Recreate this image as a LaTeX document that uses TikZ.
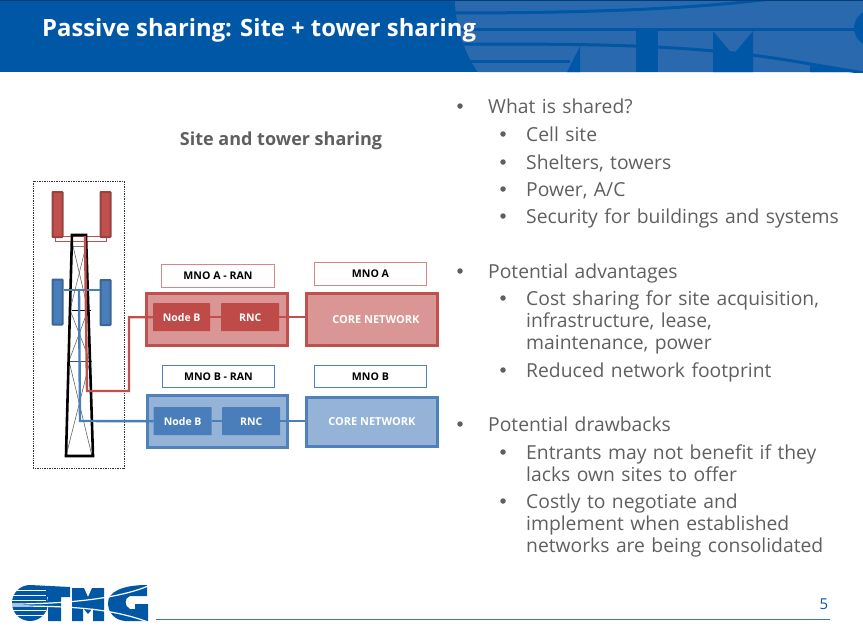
\documentclass[tikz,border=0pt]{standalone}
\usepackage{fontspec}
\setmainfont{Open Sans}
\usepackage{xcolor}
\definecolor{hdrblue}{HTML}{0057A6}
\definecolor{hdrlight}{HTML}{2B69AE}
\definecolor{redline}{HTML}{C0504D}
\definecolor{redfill}{HTML}{D99694}
\definecolor{redbox}{HTML}{BE4B48}
\definecolor{blueline}{HTML}{4F81BD}
\definecolor{bluefill}{HTML}{95B3D7}
\definecolor{bluebox}{HTML}{4A7EBB}
\definecolor{txtgray}{HTML}{5F5F5F}
\tikzset{
  outerbox/.style={draw=#1, line width=2.8pt, minimum height=0pt, inner sep=0pt, anchor=north west},
  innerbox/.style={fill=#1, text=white, font=\bfseries\fontsize{10.5}{12}\selectfont, text height=8pt, text depth=0pt, rounded corners=0.5pt, inner sep=0pt, anchor=north west},
  tagbox/.style={draw=#1, fill=white, line width=0.9pt, text=black, font=\bfseries\fontsize{10.6}{12}\selectfont, text height=8pt, text depth=0pt, inner sep=0pt, anchor=north west},
  antenna/.style={fill=#1, draw=#1!80!black, line width=2pt, rounded corners=0.5pt, inner sep=0pt, anchor=north west, minimum width=10pt},
  bulleta/.style={text=txtgray, font=\fontsize{19.3}{22}\selectfont, anchor=base west, inner sep=0pt, align=left, text width=335pt},
  bulletb/.style={text=txtgray, font=\fontsize{19.3}{22}\selectfont, anchor=base west, inner sep=0pt, align=left, text width=330pt},
  dot/.style={fill=txtgray, circle, inner sep=0pt, minimum size=5.5pt}
}
\begin{document}
\begin{tikzpicture}[x=1pt, y=-1pt]
  \useasboundingbox (0,0) rectangle (863,635);

  % Header band
  \fill[hdrblue] (0,0) rectangle (863,72);
  \begin{scope}
    \clip (0,0) rectangle (863,72);
    \fill[hdrlight] (455,0) .. controls (455,25) and (465,55) .. (478,72) -- (863,72) -- (863,0) -- cycle;
    \fill[hdrblue] (580,46) -- (567,72) -- (580,72) -- cycle;
    \fill[hdrblue] (636,31) rectangle (658,72);
    \fill[hdrblue] (713,31) -- (733,55) -- (753,31) -- (753,72) -- (713,72) -- cycle;
    \draw[hdrblue, line width=3pt] (450,13) .. controls (600,13) and (700,8) .. (770,-1);
    \draw[hdrblue, line width=3pt] (450,29) -- (863,29);
    \draw[hdrblue, line width=3pt] (455,44) .. controls (600,44) and (700,44) .. (810,64) -- (870,74);
    \draw[hdrblue, line width=3pt] (460,61) -- (570,61);
    \fill[hdrblue] (872,28) circle[radius=18];
    \fill[hdrblue] (810,66) -- (863,72) -- (810,72) -- cycle;
  \end{scope}
  \draw[hdrblue!70!black, line width=1pt] (0,0.5) -- (863,0.5);
  \node[text=white, font=\bfseries\fontsize{23.8}{27}\selectfont, anchor=base west, inner sep=0pt] (title) at (42,36) {Passive sharing: Site + tower sharing};

  % Left heading
  \node[text=txtgray, font=\bfseries\fontsize{18}{22}\selectfont, inner sep=0pt] (head) at (281,141) {Site and tower sharing};

  % Tower frame
  \draw[densely dotted, black!80, line width=0.7pt] (33,181) rectangle (124,468);
  \draw[redline, fill=white, line width=0.9pt] (55,236) rectangle (106,241);
  \node[antenna=redline, minimum height=45pt] (antRL) at (51.5,191) {};
  \node[antenna=redline, minimum height=45pt] (antRR) at (99.5,191) {};
  \node[antenna=bluebox, minimum height=45pt] (antBL) at (51.5,278.5) {};
  \node[antenna=bluebox, minimum height=45pt] (antBR) at (99.5,279) {};

  % Tower
  \draw[gray, line width=0.8pt] (73,246) -- (87,246);
  \draw[black, line width=0.6pt] (72,310) -- (91,310);
  \draw[black!70, line width=0.6pt] (69,361) -- (92,361);
  \draw[gray!80!black, line width=0.6pt] (73,246) -- (88,310) -- (69,361) -- (92,456);
  \draw[gray!80!black, line width=0.6pt] (86,246) -- (70,310) -- (90,361) -- (66,456);
  \draw[black, line width=2.6pt] (66,456) -- (72,235) -- (86,235) -- (93,456) -- cycle;

  % Feeders
  \draw[bluebox, line width=2pt] (antBL.east |- 0,290) -- (antBR.west |- 0,290);
  \coordinate (redA) at (85,236);
  \coordinate (redB) at (87,391);
  \coordinate (redC) at (129,391);
  \coordinate (blueA) at (79,290);
  \coordinate (blueB) at (80,421);

  % RAN and core boxes
  \node[outerbox=redline, fill=redfill, minimum width=141pt, minimum height=52pt] (ranA) at (145,292) {};
  \node[outerbox=redline, fill=redfill, minimum width=131pt, minimum height=52pt, text=white, font=\bfseries\fontsize{11}{12}\selectfont] (coreA) at (305,292) {\hspace{8pt}CORE NETWORK};
  \node[outerbox=blueline, fill=bluefill, minimum width=140pt, minimum height=52pt] (ranB) at (146,394) {};
  \node[outerbox=blueline, fill=bluefill, minimum width=131pt, minimum height=49pt, text=white, font=\bfseries\fontsize{11}{12}\selectfont] (coreB) at (305,396) {CORE NETWORK};

  \node[innerbox=redbox, minimum width=57pt, minimum height=28pt] (nodeA) at (153,303) {Node B};
  \node[innerbox=redbox, minimum width=58pt, minimum height=28pt] (rncA) at (221,303) {RNC};
  \node[innerbox=bluebox, minimum width=58pt, minimum height=28pt] (nodeB) at (153.5,407) {Node B};
  \node[innerbox=bluebox, minimum width=58pt, minimum height=28pt] (rncB) at (222,407) {RNC};

  \node[tagbox=redfill!80!redline, minimum width=113pt, minimum height=23pt] (tagRanA) at (161,264) {MNO A - RAN};
  \node[tagbox=redfill!80!redline, minimum width=112pt, minimum height=23pt] (tagCoreA) at (314,262) {MNO A};
  \node[tagbox=blueline, minimum width=112pt, minimum height=22pt] (tagRanB) at (162,365) {MNO B - RAN};
  \node[tagbox=blueline, minimum width=112pt, minimum height=22pt] (tagCoreB) at (314,365) {MNO B};

  % Links
  \draw[redline, line width=2.4pt] (redA) -- (redB) -- (redC) |- (nodeA.west);
  \draw[bluebox, line width=2.4pt] (blueA) -- (blueB) -- (nodeB.west);
  \draw[redline, line width=2.4pt] (nodeA) -- (rncA);
  \draw[redline, line width=2.4pt] (rncA) -- (coreA.west |- rncA);
  \draw[bluebox, line width=2.4pt] (nodeB) -- (rncB);
  \draw[bluebox, line width=2.4pt] (rncB) -- (coreB.west |- rncB);

  % Bullets
  \foreach \yy in {106,271,424} \node[dot] at (460,\yy) {};
  \foreach \yy in {134,162,189,216,298,370,452,501} \node[dot] at (503,\yy) {};
  \node[bulleta] (qA) at (488,113) {What is shared?};
  \node[bulletb] (a1) at (526,141) {Cell site};
  \node[bulletb] (a2) at (526,169) {Shelters, towers};
  \node[bulletb] (a3) at (526,196) {Power, A/C};
  \node[bulletb] (a4) at (526,223) {Security for buildings and systems};
  \node[bulleta] (qB) at (488,278) {Potential advantages};
  \node[bulletb] (b1) at (526,305) {Cost sharing for site acquisition,};
  \node[bulletb] (b2) at (526,327) {infrastructure, lease,};
  \node[bulletb] (b3) at (526,349) {maintenance, power};
  \node[bulletb] (b4) at (526,377) {Reduced network footprint};
  \node[bulleta] (qC) at (488,431) {Potential drawbacks};
  \node[bulletb] (c1) at (526,459) {Entrants may not benefit if they};
  \node[bulletb] (c2) at (526,481) {lacks own sites to offer};
  \node[bulletb] (c3) at (526,508) {Costly to negotiate and};
  \node[bulletb] (c4) at (526,530) {implement when established};
  \node[bulletb] (c5) at (526,552) {networks are being consolidated};

  % Footer
  \draw[hdrblue!80, line width=0.8pt] (156,619) -- (830,619);
  \node[text=hdrblue, font=\fontsize{15}{18}\selectfont, inner sep=0pt] (pageno) at (824,604) {5};

  % Logo
  \fill[hdrblue] (30,603) circle[radius=18];
  \fill[hdrblue] (30,585) -- (70,587) -- (70,597) -- (61,597) -- (61,621) -- (48,621) -- (48,597) -- (30,597) -- cycle;
  \fill[hdrblue] (72,588) -- (84,588) -- (88,597) -- (92,588) -- (104,588) -- (104,621) -- (93,621) -- (93,608) -- (88,614) -- (83,608) -- (83,621) -- (72,621) -- cycle;
  \fill[hdrblue] (108,603) .. controls (108,592) and (122,585) .. (147,585) -- (147,596) -- (130,596) .. controls (124,598) and (124,606) .. (130,609) -- (135,609) -- (135,604) -- (148,604) -- (148,621) -- (125,621) .. controls (114,620) and (108,612) .. (108,603) -- cycle;
  \foreach \yy in {590,595,600,610,615} \draw[white, line width=1pt] (10,\yy) -- (46,\yy);
  \draw[white, line width=1.2pt] (10,604) .. controls (70,604) and (120,598) .. (148,586);
  \draw[white, line width=1.2pt] (10,606) .. controls (70,606) and (110,608) .. (148,622);
\end{tikzpicture}
\end{document}
